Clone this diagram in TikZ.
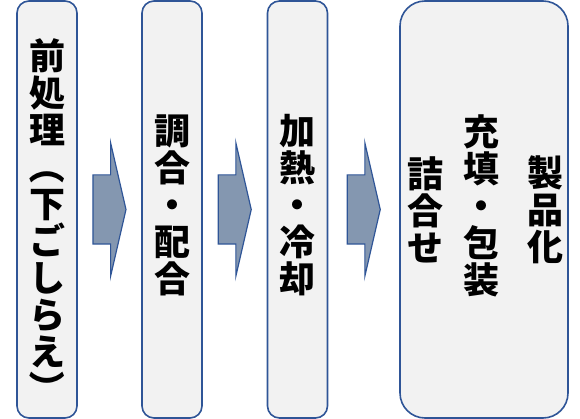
\documentclass[tikz,border=0pt]{standalone}
\usepackage{fontspec}
\newfontfamily\jpfont{Noto Sans CJK JP}
\usetikzlibrary{positioning, calc, shapes.arrows}
\definecolor{boxline}{RGB}{47,85,151}
\definecolor{boxfill}{RGB}{242,242,242}
\definecolor{arrowfill}{RGB}{132,151,176}
\newcommand\tatepar[1]{\rotatebox[origin=c]{-90}{#1}}

\begin{document}
\begin{tikzpicture}[x=1pt, y=-1pt,
    stage/.style={draw=boxline, fill=boxfill, line width=1.6pt, rounded corners=12pt,
      minimum width=60pt, minimum height=417pt, inner sep=0pt},
    flow/.style={single arrow, draw=boxline, fill=arrowfill, line width=1.2pt,
      inner sep=0pt, inner ysep=34pt, minimum height=33pt,
      single arrow head extend=32pt, single arrow tip angle=154},
    tate/.style={align=center, inner sep=0pt,
      font=\jpfont\bfseries\fontsize{36}{37}\selectfont}]
  \useasboundingbox (0,0) rectangle (580,419);
  \node[stage] (s1) at (47,209.5) {};
  \node[stage] (s2) at (172,209.5) {};
  \node[stage] (s3) at (297.5,209.5) {};
  \node[stage, minimum width=168pt, rounded corners=25pt] (s4) at (484,209.5) {};

  \node[flow] (f1) at ([xshift=-4pt]$(s1.east)!0.5!(s2.west)$) {};
  \node[flow] (f2) at ([xshift=-4pt]$(s2.east)!0.5!(s3.west)$) {};
  \node[flow] (f3) at ([xshift=-4pt]$(s3.east)!0.5!(s4.west)$) {};

  \node[tate] (t1) at ([yshift=-13pt]s1.center)
    {前\\処\\理\\\tatepar{（}\\下\\ご\\し\\ら\\え\\\tatepar{）}};
  \node[tate] (t2) at ([yshift=4pt]s2.center) {調\\合\\・\\配\\合};
  \node[tate] (t3) at ([yshift=4pt]s3.center) {加\\熱\\・\\冷\\却};
  \node[tate] (t4a) at ([xshift=61pt]s4.center) {製\\品\\化};
  \node[tate] (t4b) at ([xshift=-3pt, yshift=4pt]s4.center) {充\\填\\・\\包\\装};
  \node[tate] (t4c) at ([xshift=-59pt]s4.center) {詰\\合\\せ};
\end{tikzpicture}
\end{document}
